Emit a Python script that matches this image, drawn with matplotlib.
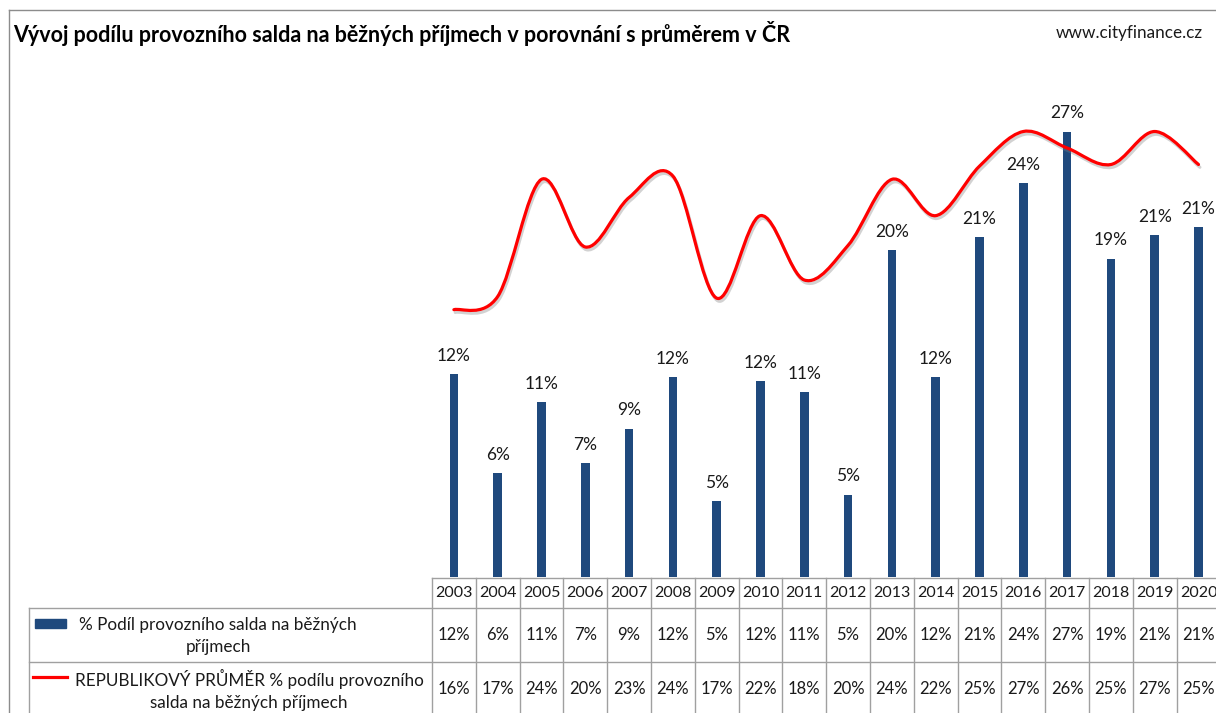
import numpy as np
import matplotlib
matplotlib.use("Agg")
import matplotlib.pyplot as plt
from matplotlib.path import Path
from matplotlib.patches import PathPatch, Rectangle
from matplotlib.lines import Line2D
import matplotlib.patheffects as pe
import matplotlib.transforms as mtransforms

plt.rcParams['font.family'] = ['Lato', 'DejaVu Sans']

# data
years = [str(y) for y in range(2003, 2021)]
podil = [12.3, 6.3, 10.6, 6.9, 9.0, 12.1, 4.6, 11.9, 11.2, 5.0,
         19.8, 12.1, 20.6, 23.9, 27.0, 19.3, 20.7, 21.2]
prumer = [16.2, 17.0, 24.1, 20.0, 23.0, 24.3, 16.9, 21.9, 18.0, 20.1,
          24.1, 21.9, 24.9, 27.0, 26.0, 25.0, 27.0, 25.0]
label_podil = "% Podíl provozního salda na běžných\npříjmech"
label_prumer = "REPUBLIKOVÝ PRŮMĚR % podílu provozního\nsalda na běžných příjmech"
title = "Vývoj podílu provozního salda na běžných příjmech v porovnání s průměrem v ČR"
web = "www.cityfinance.cz"

W, H = 1216, 713
BLUE = '#1F497D'
RED = '#FF0000'
GRID = '#A0A0A0'
TXT = '#1A1A1A'
FS_TAB = 11.5

def fx(x):
    return x / W

def fy(y):
    return 1 - y / H

fig = plt.figure(figsize=(W / 100, H / 100), dpi=100)

# outer chart border
fig.add_artist(Line2D([fx(9), fx(9)], [fy(10), 0], transform=fig.transFigure, color='#8C8C8C', lw=1))
fig.add_artist(Line2D([fx(9), 1], [fy(10), fy(10)], transform=fig.transFigure, color='#8C8C8C', lw=1))

fig.text(fx(13), fy(33), title, fontsize=15.5, fontweight='bold', color='black', va='center', ha='left')
fig.text(fx(1203), fy(33), web, fontsize=12.3, color=TXT, va='center', ha='right')

colw = 43.8
x0, ybase, ytop = 432, 577, 82
ax = fig.add_axes([fx(x0), fy(ybase), 18 * colw / W, (ybase - ytop) / H])
ax.set_xlim(-0.5, 17.5)
ax.set_ylim(0, 30)
ax.axis('off')

x = np.arange(len(years))
ax.bar(x, podil, width=0.2, color=BLUE, zorder=2)
for xi, v in zip(x, podil):
    ax.annotate(f"{v:.0f}%", (xi, v), xytext=(0, 13), textcoords='offset points',
                ha='center', va='center', fontsize=12.5, color=TXT)

# smoothed line (Excel-like bezier through the points)
pts = np.column_stack([x, prumer]).astype(float)
n = len(pts)
verts = [pts[0]]
codes = [Path.MOVETO]
for i in range(n - 1):
    p0 = pts[max(i - 1, 0)]
    p1 = pts[i]
    p2 = pts[i + 1]
    p3 = pts[min(i + 2, n - 1)]
    verts += [p1 + (p2 - p0) / 6, p2 - (p3 - p1) / 6, p2]
    codes += [Path.CURVE4] * 3
patch = PathPatch(Path(verts, codes), fill=False, edgecolor=RED, lw=2.3, zorder=3,
                  capstyle='round', joinstyle='round')
patch.set_path_effects([pe.SimpleLineShadow(offset=(1, -2), shadow_color='gray', alpha=0.35),
                        pe.Normal()])
ax.add_patch(patch)

# data table below the plot
tr = mtransforms.blended_transform_factory(ax.transData, fig.transFigure)
r0, r1, r2 = 578, 608, 662
xr = 17.5 + 0.2
ax.add_line(Line2D([-0.5, xr], [fy(r0), fy(r0)], transform=tr, color=GRID, lw=1, clip_on=False))
for ry in [r1, r2]:
    fig.add_artist(Line2D([fx(29), 1], [fy(ry), fy(ry)], transform=fig.transFigure, color=GRID, lw=1))
for k in range(19):
    ax.add_line(Line2D([k - 0.5, k - 0.5], [fy(r0), 0], transform=tr, color=GRID, lw=1, clip_on=False))
fig.add_artist(Line2D([fx(29), fx(29)], [fy(r1), 0], transform=fig.transFigure, color=GRID, lw=1))

for xi, yr, a, b in zip(x, years, podil, prumer):
    ax.text(xi, fy(593), yr, transform=tr, ha='center', va='center', fontsize=FS_TAB, color=TXT, clip_on=False)
    ax.text(xi, fy(635), f"{a:.0f}%", transform=tr, ha='center', va='center', fontsize=12, color=TXT, clip_on=False)
    ax.text(xi, fy(689), f"{b:.0f}%", transform=tr, ha='center', va='center', fontsize=12, color=TXT, clip_on=False)

# legend keys in the table
fig.add_artist(Rectangle((fx(35), fy(628)), 31 / W, 9 / H, transform=fig.transFigure, color=BLUE))
fig.add_artist(Line2D([fx(33), fx(67)], [fy(677), fy(677)], transform=fig.transFigure, color=RED, lw=2.3))
fig.text(fx(218), fy(636), label_podil, ha='center', va='center', multialignment='center',
         fontsize=12.3, color=TXT, linespacing=1.5)
fig.text(fx(249), fy(690), label_prumer, ha='center', va='center', multialignment='center',
         fontsize=12.3, color=TXT, linespacing=1.5)

fig.savefig('out.png', dpi=100)
